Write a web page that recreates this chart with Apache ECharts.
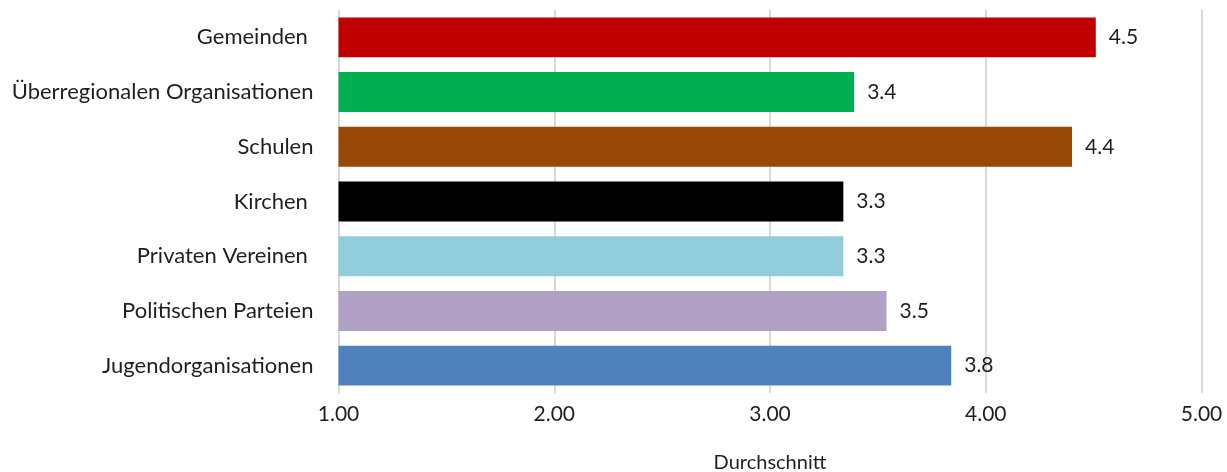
<!DOCTYPE html>
<html>
<head>
<meta charset="utf-8">
<script src="https://cdn.jsdelivr.net/npm/echarts@6/dist/echarts.min.js"></script>
<style>
  html, body { margin: 0; padding: 0; background: #ffffff; }
  #chart { width: 1227px; height: 472px; }
</style>
</head>
<body>
<div id="chart"></div>
<script>
// Categories, top to bottom
const categories = [
  'Gemeinden ',
  'Überregionalen Organisationen',
  'Schulen',
  'Kirchen ',
  'Privaten Vereinen ',
  'Politischen Parteien',
  'Jugendorganisationen'
];
// Average rating per category
const averages = [4.51, 3.39, 4.40, 3.34, 3.34, 3.54, 3.84];
// Fill colour per bar
const barColors = ['#C00000', '#00B050', '#974706', '#000000', '#92CDDC', '#B2A1C7', '#4F81BD'];
// Value axis ticks
const axisMin = 1;
const axisMax = 5;
const axisStep = 1;

const FONT = 'Lato';
const TEXT = '#1f1f1f';

const chart = echarts.init(document.getElementById('chart'), null, { renderer: 'canvas' });

chart.setOption({
  animation: false,
  backgroundColor: '#ffffff',
  grid: {
    left: 338.5, width: 863, top: 10, height: 383,
    containLabel: false,
    outerBoundsMode: 'none'
  },
  xAxis: {
    type: 'value',
    min: axisMin,
    max: axisMax,
    interval: axisStep,
    name: 'Durchschnitt',
    nameLocation: 'middle',
    nameGap: 60,
    nameTextStyle: { fontFamily: FONT, fontSize: 20, color: TEXT },
    axisLine: { show: false },
    axisTick: { show: false },
    axisLabel: {
      fontFamily: FONT, fontSize: 21, color: TEXT, margin: 11,
      formatter: v => v.toFixed(2)
    },
    splitLine: { show: true, lineStyle: { color: '#D9D9D9', width: 2 } }
  },
  yAxis: {
    type: 'category',
    data: categories,
    inverse: true,
    axisLine: { show: false },
    axisTick: { show: false },
    axisLabel: { fontFamily: FONT, fontSize: 22, color: TEXT, margin: 25 }
  },
  series: [{
    type: 'bar',
    data: averages.map((v, i) => ({ value: v, itemStyle: { color: barColors[i] } })),
    barCategoryGap: '27%',
    label: {
      show: true,
      position: 'right',
      distance: 13,
      fontFamily: FONT,
      fontSize: 21,
      color: TEXT,
      formatter: p => p.value.toFixed(1)
    }
  }]
});
</script>
</body>
</html>
